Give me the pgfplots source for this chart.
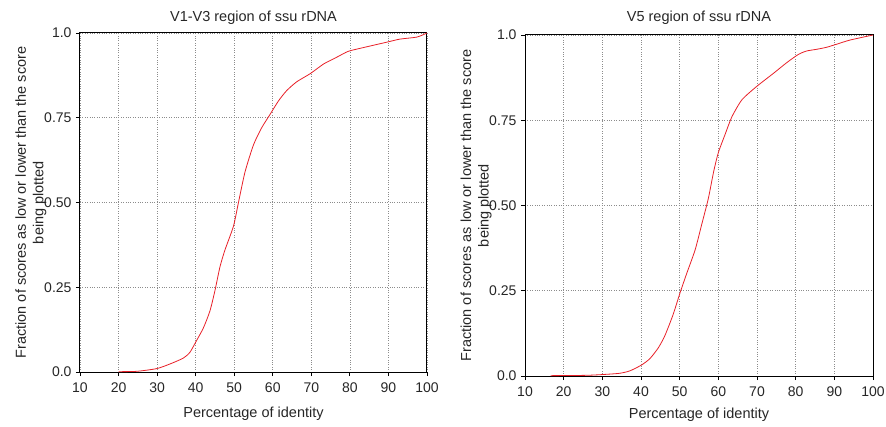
\documentclass[border=0pt]{standalone}
\usepackage{fontspec}
\setmainfont{Liberation Sans}
\usepackage{pgfplots}
\pgfplotsset{compat=1.18}
\definecolor{curvered}{RGB}{232,32,40}

\pgfplotsset{cdf/.style={
  scale only axis,
  xmin=10, xmax=100, ymin=0, ymax=1,
  xtick={10,20,...,100},
  ytick={0,0.25,0.5,0.75,1}, yticklabels={0.0,0.25,0.50,0.75,1.0},
  grid=major, major grid style={black!45, dotted, line width=0.6pt},
  axis line style={line width=1pt},
  tick align=outside, tick pos=left, major tick length=4pt,
  tick style={black, line width=0.8pt},
  /pgf/number format/assume math mode=true,
  xticklabel style={font=\fontsize{14}{16}\selectfont, text=black!85,
    anchor=north, yshift=-3pt},
  yticklabel style={font=\fontsize{14}{16}\selectfont, text=black!85,
    anchor=east, xshift=-1pt},
  label style={font=\fontsize{14.5}{17.5}\selectfont, text=black!85},
  title style={font=\fontsize{14.5}{16}\selectfont, text=black!85,
    at={(axis description cs:0.5,1)}, anchor=center},
  xlabel={Percentage of identity},
  xlabel style={at={(axis description cs:0.5,0)}, anchor=center},
  ylabel={Fraction of scores as low or lower than the score\\being plotted},
  ylabel style={align=center, at={(axis description cs:0,0.5)}, anchor=center},
}}

\begin{document}
\begin{tikzpicture}
\begin{axis}[cdf, width=347pt, height=339pt, at={(0pt,0pt)},
  title={V1-V3 region of ssu rDNA}, title style={yshift=9pt},
  xlabel style={yshift=-42pt}, ylabel style={yshift=49pt}]
\addplot[curvered, line width=0.8pt, smooth, tension=0.4] coordinates {
  (20,0.001) (24.7,0.002) (29.9,0.01) (33.4,0.024) (36.8,0.041) (38.5,0.058)
  (40.1,0.09) (42,0.13) (43.7,0.18) (45,0.24) (46.3,0.31) (47.6,0.36)
  (49.8,0.43) (51.1,0.50) (52.8,0.59) (55,0.67) (57.1,0.72) (59.3,0.76)
  (61.5,0.80) (63.6,0.83) (66.2,0.856) (69.7,0.88) (73.1,0.908) (75.3,0.921)
  (77,0.931) (79.6,0.946) (83.5,0.957) (89.6,0.973) (93,0.982) (97.4,0.988)
  (100,1.0)};
\end{axis}
\begin{axis}[cdf, width=348pt, height=341pt, at={(445pt,-4pt)},
  title={V5 region of ssu rDNA}, title style={yshift=11pt},
  xlabel style={yshift=-39pt}, ylabel style={yshift=49pt}]
\addplot[curvered, line width=0.8pt, smooth, tension=0.4] coordinates {
  (16.6,0.001) (25.9,0.002) (31.1,0.005) (34.5,0.008) (37.1,0.015) (40.1,0.032)
  (42.3,0.051) (44.5,0.083) (46.2,0.119) (48.3,0.18) (50.1,0.244) (51.8,0.30)
  (54,0.37) (55.6,0.44) (57.4,0.52) (58.8,0.60) (60,0.655) (61.8,0.71)
  (63.5,0.76) (66.1,0.81) (69.9,0.849) (74.3,0.888) (77.7,0.919) (80.7,0.943)
  (82.8,0.953) (85.4,0.958) (88,0.964) (90.6,0.973) (94,0.985) (100,1.0)};
\end{axis}
\pgfresetboundingbox
\useasboundingbox (-80pt,-54pt) rectangle (806pt,372pt);
\end{tikzpicture}
\end{document}
